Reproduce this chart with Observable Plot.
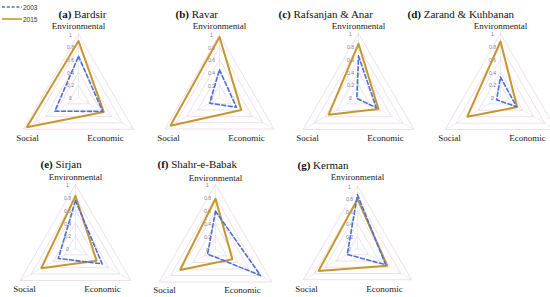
<!DOCTYPE html>
<html>
<head>
<meta charset="utf-8">
<script src="https://cdn.jsdelivr.net/npm/d3@7"></script>
<script src="https://cdn.jsdelivr.net/npm/@observablehq/plot@0.6"></script>
<style>
  html, body { margin: 0; padding: 0; background: #fff; }
  #root { position: relative; width: 550px; height: 297px; overflow: hidden; background: #fff; }
  .panel { position: absolute; width: 200px; height: 150px; }
  .panel svg { max-width: none !important; width: 200px; height: 150px; }
  #legend { position: absolute; left: 0; top: 0; font-family: "Liberation Sans", Arial, sans-serif; font-size: 6.5px; color: #333; }
  #legend .row { position: absolute; left: 0; white-space: nowrap; }
</style>
</head>
<body>
<div id="root"></div>
<script>
// ---- data ----
const panelTags = ["(a)", "(b)", "(c)", "(d)", "(e)", "(f)", "(g)"];
const regions = ["Bardsir", "Ravar", "Rafsanjan & Anar", "Zarand & Kuhbanan", "Sirjan", "Shahr-e-Babak", "Kerman"];
const dims = ["Environmental", "Economic", "Social"];
const years = ["2003", "2015"];
const env2003 = [0.65, 0.44, 0.65, 0.32, 0.75, 0.59, 0.86];
const eco2003 = [0.44, 0.31, 0.32, 0.29, 0.48, 0.80, 0.52];
const soc2003 = [0.43, 0.18, 0.03, 0.07, 0.31, 0.14, 0.19];
const env2015 = [0.89, 0.96, 0.84, 0.875, 0.82, 0.78, 0.79];
const eco2015 = [0.46, 0.40, 0.36, 0.30, 0.38, 0.30, 0.55];
const soc2015 = [0.94, 0.90, 0.54, 0.60, 0.62, 0.63, 0.72];
const gridLevels = [0.2, 0.4, 0.6, 0.8, 1];
const tickLevels = [0, 0.2, 0.4, 0.6, 0.8, 1];
const tickText = ["0", "0.2", "0.4", "0.6", "0.8", "1"];

// ---- layout (pixels) ----
const layout = [
  {cx: 78,    cy: 96.5, R: 63.5, tx: -20, ty: -83},
  {cx: 219,   cy: 97,   R: 63,   tx: -44, ty: -83.5},
  {cx: 357.5, cy: 96.5, R: 64,   tx: -80, ty: -83},
  {cx: 500,   cy: 97,   R: 64,   tx: -93, ty: -83.5},
  {cx: 75,    cy: 248,  R: 64,   tx: -35, ty: -84},
  {cx: 215,   cy: 249,  R: 65,   tx: -58, ty: -85},
  {cx: 357,   cy: 247.5,R: 62.5, tx: -60, ty: -83.5}
];
const colors = {"2003": "#4f6fd3", "2015": "#c4982f"};
const PW = 200, PH = 150, OX = 100, OY = 96;

const angle = {Environmental: Math.PI / 2, Economic: -Math.PI / 6, Social: Math.PI * 7 / 6};
const px = (d, v) => v * Math.cos(angle[d]);
const py = (d, v) => v * Math.sin(angle[d]);
const ring = (vals) => { const r = dims.map((d, k) => ({dim: d, v: vals[k]})); r.push(r[0]); return r; };

const root = document.getElementById("root");

panelTags.forEach((tag, i) => {
  const L = layout[i], R = L.R;
  const s2003 = ring([env2003[i], eco2003[i], soc2003[i]]);
  const s2015 = ring([env2015[i], eco2015[i], soc2015[i]]);
  const grid = gridLevels.flatMap(lv => ring([lv, lv, lv]).map(p => ({...p, lv})));
  const spokes = dims.flatMap(d => [{dim: d, v: 0, k: d}, {dim: d, v: 1, k: d}]);
  const ticks = tickLevels.map((lv, k) => ({lv, t: tickText[k]}));
  const axisLabels = [
    {t: "Environmental", x: 0, y: -71},
    {t: "Economic", x: 27, y: 40.5},
    {t: "Social", x: -51, y: 40.5}
  ];
  const title = [{t: tag + " " + regions[i], x: L.tx, y: L.ty}];

  const chart = Plot.plot({
    width: PW, height: PH,
    marginTop: 0, marginRight: 0, marginBottom: 0, marginLeft: 0,
    x: {domain: [-OX / R, (PW - OX) / R], range: [0, PW], axis: null},
    y: {domain: [-(PH - OY) / R, OY / R], range: [PH, 0], axis: null},
    style: {background: "transparent", overflow: "visible", maxWidth: "none"},
    marks: [
      Plot.line(spokes, {x: d => px(d.dim, d.v), y: d => py(d.dim, d.v), z: "k", stroke: "#d9ecf3", strokeWidth: 0.7}),
      Plot.line(grid, {x: d => px(d.dim, d.v), y: d => py(d.dim, d.v), z: "lv", stroke: "#f1d6e2", strokeWidth: 0.8}),
      Plot.text(ticks, {x: 0, y: d => d.lv, text: "t", dx: -8, dy: 1, fontSize: 5, fill: "#7d7a9a", fontFamily: "Liberation Sans, Arial, sans-serif"}),
      Plot.line(s2015, {x: d => px(d.dim, d.v), y: d => py(d.dim, d.v), stroke: colors["2015"], strokeWidth: 2, strokeLinejoin: "miter"}),
      Plot.line(s2003, {x: d => px(d.dim, d.v), y: d => py(d.dim, d.v), stroke: colors["2003"], strokeWidth: 1.6, strokeDasharray: "4,2.5"}),
      Plot.text(axisLabels, {x: d => d.x / R, y: d => -d.y / R, text: "t", fontSize: 9, fill: "#222", fontFamily: "Liberation Serif, Times New Roman, serif"}),
      Plot.text(title, {x: d => d.x / R, y: d => -d.y / R, text: "t", textAnchor: "start", fontSize: 11, fill: "#111", fontFamily: "Liberation Serif, Times New Roman, serif"})
    ]
  });
  // bold the panel tag
  d3.select(chart).selectAll("text").filter(function () { return this.textContent === tag + " " + regions[i]; })
    .each(function () {
      const el = d3.select(this);
      el.text(null);
      el.append("tspan").attr("font-weight", "bold").text(tag);
      el.append("tspan").text(" " + regions[i]);
    });
  const wrap = document.createElement("div");
  wrap.className = "panel";
  wrap.style.left = (L.cx - OX) + "px";
  wrap.style.top = (L.cy - OY) + "px";
  wrap.appendChild(chart);
  root.appendChild(wrap);
});

// legend
const legend = document.createElement("div");
legend.id = "legend";
years.forEach((y, k) => {
  const row = document.createElement("div");
  row.className = "row";
  row.style.top = (k === 0 ? 3 : 15) + "px";
  row.innerHTML = `<svg width="22" height="8" style="vertical-align:middle"><line x1="2" x2="22" y1="4" y2="4" stroke="${colors[y]}" stroke-width="${k === 0 ? 1.4 : 1.6}" ${k === 0 ? 'stroke-dasharray="3,1.8"' : ''}/></svg><span style="vertical-align:middle;margin-left:1px">${y}</span>`;
  legend.appendChild(row);
});
root.appendChild(legend);
</script>
</body>
</html>
